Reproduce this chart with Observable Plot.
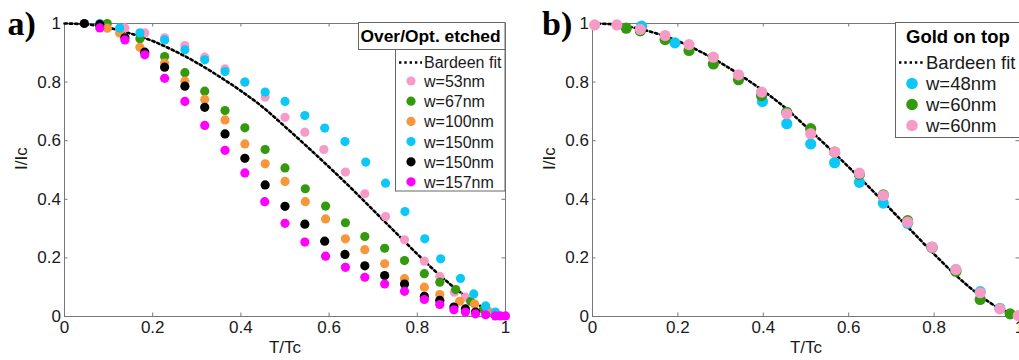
<!DOCTYPE html>
<html><head><meta charset="utf-8">
<script src="https://cdn.jsdelivr.net/npm/d3@7"></script>
<script src="https://cdn.jsdelivr.net/npm/@observablehq/plot@0.6"></script>
<style>
body{margin:0;background:#fff;}
#wrap{position:relative;width:1019px;height:360px;overflow:hidden;background:#fff;font-family:"Liberation Sans",Arial,sans-serif;}
#wrap svg{position:absolute;top:0;}
</style></head><body><div id="wrap"></div>
<script>
// ---- tick values / labels ----
const xTicks = [0, 0.2, 0.4, 0.6, 0.8, 1];
const xTickLabels = ["0", "0.2", "0.4", "0.6", "0.8", "1"];
const yTicks = [0, 0.2, 0.4, 0.6, 0.8, 1];
const yTickLabels = ["0", "0.2", "0.4", "0.6", "0.8", "1"];
const xLabel = "T/Tc";
const yLabel = "I/Ic";

// ---- Bardeen fit ----
const fitT = [0, 0.05, 0.1, 0.15, 0.2, 0.25, 0.3, 0.35, 0.4, 0.45, 0.5, 0.55, 0.6, 0.65, 0.7, 0.75, 0.8, 0.85, 0.9, 0.95, 1];
const fitI = [1.0, 0.997, 0.985, 0.966, 0.94, 0.906, 0.866, 0.82, 0.77, 0.714, 0.648, 0.58, 0.51, 0.438, 0.363, 0.288, 0.213, 0.142, 0.08, 0.03, 0.0];

// ---- panel a: Over/Opt. etched ----
const aTitle = "Over/Opt. etched";
const aNames = ["w=53nm", "w=67nm", "w=100nm", "w=150nm", "w=150nm", "w=157nm"];
const aColors = ["#F69BC6", "#339A0E", "#F7963A", "#0CC8F7", "#000000", "#FF00FF"];
const a53T = [0.137, 0.182, 0.227, 0.273, 0.318, 0.364, 0.409, 0.455, 0.500, 0.545, 0.588, 0.637, 0.681, 0.728, 0.771, 0.816, 0.851, 0.884, 0.909];
const a53I = [0.985, 0.968, 0.951, 0.925, 0.885, 0.845, 0.800, 0.749, 0.680, 0.629, 0.570, 0.493, 0.419, 0.341, 0.262, 0.189, 0.137, 0.083, 0.066];
const a67T = [0.097, 0.171, 0.227, 0.273, 0.318, 0.364, 0.409, 0.455, 0.500, 0.546, 0.592, 0.637, 0.681, 0.726, 0.771, 0.816, 0.851, 0.887, 0.921, 0.950, 0.975];
const a67I = [1.0, 0.948, 0.887, 0.832, 0.769, 0.703, 0.644, 0.570, 0.507, 0.436, 0.377, 0.320, 0.273, 0.233, 0.191, 0.146, 0.117, 0.092, 0.052, 0.025, 0.010];
const a100T = [0.097, 0.125, 0.171, 0.227, 0.273, 0.318, 0.364, 0.409, 0.455, 0.500, 0.546, 0.592, 0.637, 0.681, 0.726, 0.771, 0.816, 0.851, 0.896, 0.930, 0.960];
const a100I = [0.984, 0.968, 0.919, 0.865, 0.803, 0.741, 0.671, 0.589, 0.521, 0.461, 0.392, 0.333, 0.265, 0.228, 0.180, 0.129, 0.100, 0.075, 0.052, 0.043, 0.020];
const a150cT = [0.080, 0.125, 0.171, 0.227, 0.273, 0.318, 0.364, 0.409, 0.455, 0.500, 0.545, 0.590, 0.636, 0.683, 0.728, 0.772, 0.817, 0.853, 0.898, 0.928, 0.955, 0.977];
const a150cI = [1.0, 0.985, 0.968, 0.944, 0.910, 0.876, 0.836, 0.800, 0.766, 0.734, 0.686, 0.643, 0.597, 0.527, 0.455, 0.358, 0.265, 0.197, 0.130, 0.077, 0.036, 0.015];
const a150kT = [0.045, 0.080, 0.137, 0.182, 0.227, 0.273, 0.318, 0.364, 0.409, 0.455, 0.500, 0.545, 0.590, 0.636, 0.681, 0.726, 0.771, 0.816, 0.851, 0.883, 0.909, 0.932];
const a150kI = [1.0, 0.997, 0.951, 0.902, 0.851, 0.786, 0.714, 0.623, 0.540, 0.449, 0.376, 0.315, 0.257, 0.212, 0.173, 0.140, 0.111, 0.069, 0.055, 0.032, 0.026, 0.015];
const a157T = [0.080, 0.137, 0.182, 0.227, 0.273, 0.318, 0.364, 0.409, 0.454, 0.500, 0.545, 0.592, 0.637, 0.681, 0.726, 0.771, 0.816, 0.851, 0.883, 0.909, 0.932, 0.955, 0.977, 0.988, 1.0];
const a157I = [0.985, 0.944, 0.893, 0.813, 0.734, 0.652, 0.567, 0.490, 0.392, 0.318, 0.254, 0.206, 0.168, 0.134, 0.111, 0.086, 0.058, 0.041, 0.023, 0.015, 0.009, 0.006, 0.002, 0.002, 0.002];

// ---- panel b: Gold on top ----
const bTitle = "Gold on top";
const bNames = ["w=48nm", "w=60nm", "w=60nm"];
const bColors = ["#0CC8F7", "#339A0E", "#F69BC6"];
const b48T = [0.115, 0.193, 0.398, 0.455, 0.511, 0.567, 0.625, 0.681, 0.738, 0.795, 0.851, 0.908, 0.954];
const b48I = [0.991, 0.934, 0.734, 0.658, 0.589, 0.525, 0.458, 0.387, 0.318, 0.237, 0.160, 0.085, 0.028];
const b60gT = [0.079, 0.112, 0.170, 0.226, 0.283, 0.342, 0.396, 0.455, 0.511, 0.567, 0.625, 0.681, 0.738, 0.795, 0.851, 0.908, 0.978];
const b60gI = [0.984, 0.975, 0.945, 0.908, 0.862, 0.808, 0.754, 0.697, 0.641, 0.561, 0.485, 0.415, 0.327, 0.235, 0.154, 0.058, 0.009];
const b60pT = [0.005, 0.057, 0.112, 0.170, 0.226, 0.283, 0.342, 0.396, 0.455, 0.511, 0.567, 0.625, 0.681, 0.738, 0.795, 0.851, 0.908, 0.954, 0.997];
const b60pI = [0.995, 0.995, 0.980, 0.959, 0.928, 0.885, 0.825, 0.766, 0.692, 0.624, 0.561, 0.489, 0.413, 0.322, 0.237, 0.160, 0.081, 0.026, 0.003];

const fitName = "Bardeen fit";
const AX = "#777";
const TXT = "#1a1a1a";
const DASH = "2.4,2.9";

const aSeries = [[a53T, a53I], [a67T, a67I], [a100T, a100I], [a150cT, a150cI], [a150kT, a150kI], [a157T, a157I]]
  .map(([T, I], k) => ({T, I, color: aColors[k]}));
const bSeries = [[b48T, b48I], [b60gT, b60gI], [b60pT, b60pI]]
  .map(([T, I], k) => ({T, I, color: bColors[k]}));

function panel({width, marginLeft, marginRight, series, r, letter, letterX}) {
  const H = 360, mt = 23, mb = 44;
  const pw = width - marginLeft - marginRight, ph = H - mt - mb;
  const tx = 3.5 / pw, ty = 3.5 / ph;
  const fit = fitT.map((t, i) => ({t, v: fitI[i]}));
  const marks = [
    Plot.frame({stroke: AX, strokeWidth: 1}),
    Plot.ruleX(xTicks, {x: d => d, y1: 0, y2: ty, stroke: AX}),
    Plot.ruleX(xTicks, {x: d => d, y1: 1, y2: 1 - ty, stroke: AX}),
    Plot.ruleY(yTicks, {y: d => d, x1: 0, x2: tx, stroke: AX}),
    Plot.ruleY(yTicks, {y: d => d, x1: 1, x2: 1 - tx, stroke: AX}),
    Plot.text(xTicks, {x: d => d, y: 0, text: (d, i) => xTickLabels[i], lineAnchor: "top", dy: 4.5, fontSize: 17, fill: TXT}),
    Plot.text(yTicks, {x: 0, y: d => d, text: (d, i) => yTickLabels[i], textAnchor: "end", dx: -3.5, fontSize: 17, fill: TXT}),
    Plot.line(fit, {x: "t", y: "v", stroke: "#000", strokeWidth: 2.6, strokeDasharray: DASH, curve: "monotone-x"}),
    ...series.map(s => Plot.dot(s.T.map((t, i) => ({t, v: s.I[i]})), {x: "t", y: "v", r, fill: s.color, stroke: "none"})),
    Plot.text([yLabel], {text: d => d, frameAnchor: "left", dx: -43, rotate: -90, fontSize: 17, fill: TXT}),
    Plot.text([xLabel], {text: d => d, frameAnchor: "bottom", dy: 24, lineAnchor: "top", fontSize: 17, fill: TXT}),
    Plot.text([letter], {text: d => d, frameAnchor: "top-left", dx: letterX - marginLeft, dy: 11, textAnchor: "start", lineAnchor: "bottom", fontSize: 34, fontWeight: "bold", fontFamily: "Liberation Serif, serif", fill: "#000"})
  ];
  return Plot.plot({
    width, height: H, marginLeft, marginRight, marginTop: mt, marginBottom: mb,
    x: {domain: [0, 1], axis: null}, y: {domain: [0, 1], axis: null},
    style: {fontFamily: "Liberation Sans, Arial, sans-serif", background: "transparent", overflow: "visible"},
    marks
  });
}

const wrap = document.getElementById("wrap");
const left = panel({width: 510, marginLeft: 64, marginRight: 5, series: aSeries, r: 4.6, letter: "a)", letterX: 7});
left.style.left = "0px";
wrap.appendChild(left);
const right = panel({width: 509, marginLeft: 82, marginRight: 0, series: bSeries, r: 5.6, letter: "b)", letterX: 31.5});
right.style.left = "510px";
wrap.appendChild(right);

// ---- legends (overlay) ----
const ov = d3.select(wrap).append("svg").attr("width", 1019).attr("height", 360)
  .style("left", "0px").style("font-family", "Liberation Sans, Arial, sans-serif");

function legend({titleBox, entryBox, title, titleX, titleY, titleSize, lineX1, lineX2, lineY, textX, fs, rows, markerX, markerR, names, colors}) {
  if (titleBox) ov.append("rect").attr("x", titleBox[0]).attr("y", titleBox[1]).attr("width", titleBox[2]).attr("height", titleBox[3]).attr("fill", "#fff").attr("stroke", "#666");
  ov.append("rect").attr("x", entryBox[0]).attr("y", entryBox[1]).attr("width", entryBox[2]).attr("height", entryBox[3]).attr("fill", "#fff").attr("stroke", "#666");
  ov.append("text").attr("x", titleX).attr("y", titleY).attr("font-size", titleSize).attr("font-weight", "bold").attr("fill", "#000").text(title);
  ov.append("line").attr("x1", lineX1).attr("x2", lineX2).attr("y1", lineY).attr("y2", lineY)
    .attr("stroke", "#000").attr("stroke-width", 2.6).attr("stroke-dasharray", DASH);
  ov.append("text").attr("x", textX).attr("y", lineY + fs * 0.36).attr("font-size", fs).attr("fill", TXT).text(fitName);
  names.forEach((n, i) => {
    ov.append("circle").attr("cx", markerX).attr("cy", rows[i]).attr("r", markerR).attr("fill", colors[i]);
    ov.append("text").attr("x", textX).attr("y", rows[i] + fs * 0.37).attr("font-size", fs).attr("fill", TXT).text(n);
  });
}

legend({
  titleBox: [358.5, 22.5, 146.5, 27], entryBox: [395.5, 49.5, 109.5, 141.5],
  title: aTitle, titleX: 360.5, titleY: 41.5, titleSize: 17.4,
  lineX1: 399, lineX2: 422, lineY: 62.5, textX: 424, fs: 16,
  rows: [81, 101.2, 121.4, 141.6, 161.8, 181.8], markerX: 411, markerR: 4.6,
  names: aNames, colors: aColors
});
legend({
  titleBox: null, entryBox: [895.5, 22.5, 140, 115],
  title: bTitle, titleX: 906, titleY: 42.5, titleSize: 18.5,
  lineX1: 899, lineX2: 923, lineY: 62.5, textX: 926, fs: 18.5,
  rows: [83.5, 104.5, 125.5], markerX: 912, markerR: 5.8,
  names: bNames, colors: bColors
});
</script>
</body></html>
